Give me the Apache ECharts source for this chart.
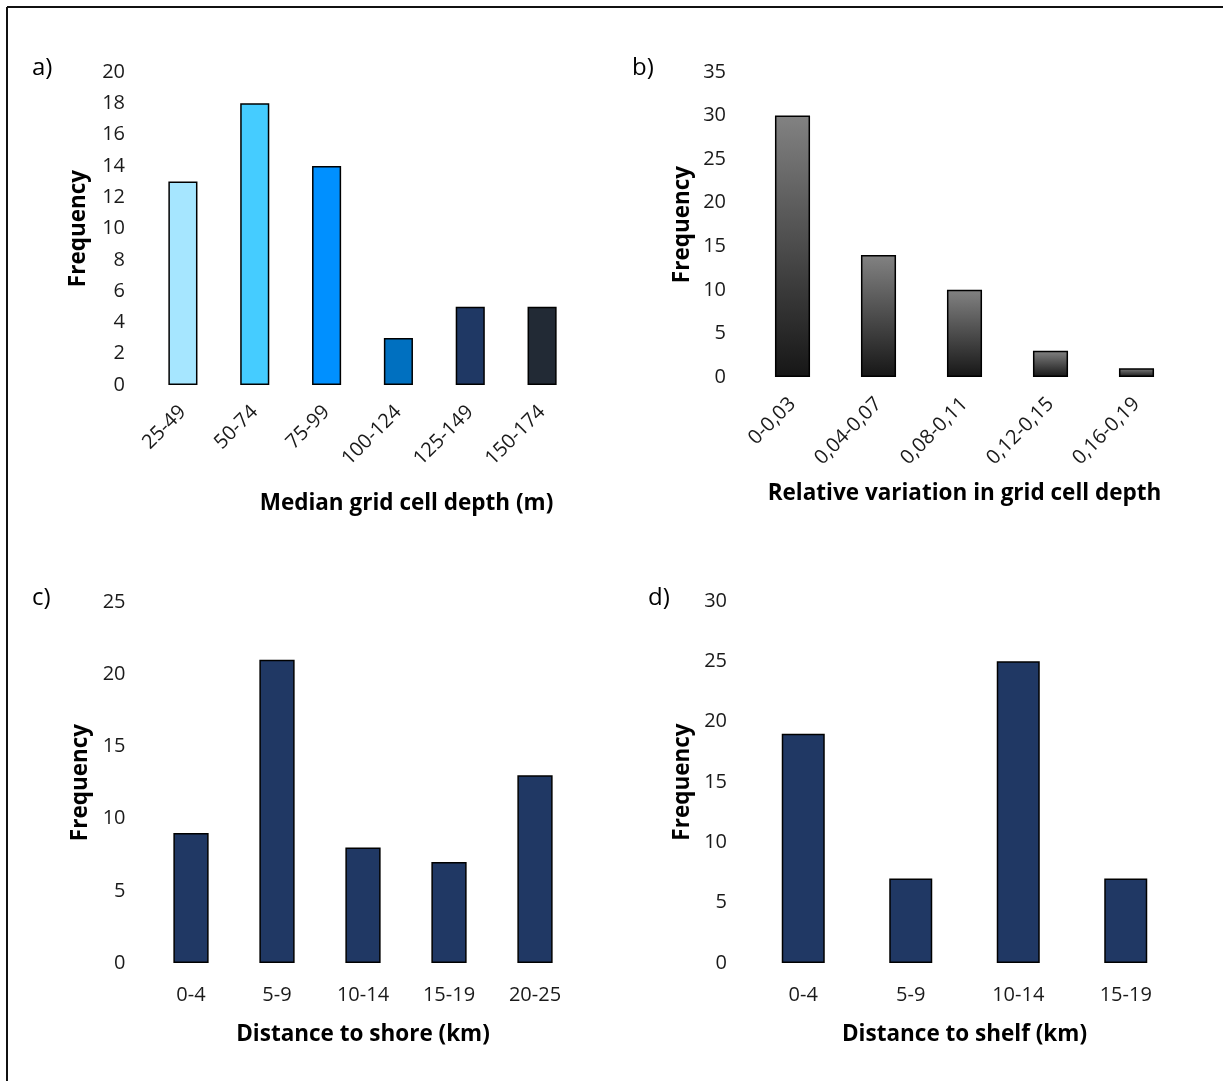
<!DOCTYPE html>
<html>
<head>
<meta charset="utf-8">
<script src="https://cdn.jsdelivr.net/npm/echarts@6/dist/echarts.min.js"></script>
<style>
html,body{margin:0;padding:0;background:#fff;}
#chart{width:1223px;height:1081px;}
</style>
</head>
<body>
<div id="chart"></div>
<script>
// ---- data ----
const catsA = ['25-49', '50-74', '75-99', '100-124', '125-149', '150-174'];
const valsA = [13, 18, 14, 3, 5, 5];
const catsB = ['0-0,03', '0,04-0,07', '0,08-0,11', '0,12-0,15', '0,16-0,19'];
const valsB = [30, 14, 10, 3, 1];
const catsC = ['0-4', '5-9', '10-14', '15-19', '20-25'];
const valsC = [9, 21, 8, 7, 13];
const catsD = ['0-4', '5-9', '10-14', '15-19'];
const valsD = [19, 7, 25, 7];
const titlesX = ['Median grid cell depth (m)', 'Relative variation in grid cell depth', 'Distance to shore (km)', 'Distance to shelf (km)'];
const yTitle = 'Frequency';
const panelLabels = ['a)', 'b)', 'c)', 'd)'];

// ---- styles ----
const colorsA = ['#A6E6FF', '#45CCFF', '#0090FF', '#0070C0', '#1F3864', '#222A35'];
const navy = '#203864';
const FONT = 'Open Sans';
const txt = '#1a1a1a';

const chart = echarts.init(document.getElementById('chart'), null, {renderer: 'canvas'});

const grids = [
  {left: 147, top: 72, width: 431, height: 313},
  {left: 749.5, top: 72, width: 430, height: 305},
  {left: 148, top: 602, width: 430, height: 361},
  {left: 749.5, top: 601, width: 430, height: 362}
];
const yMax = [20, 35, 25, 30];
const yInt = [2, 5, 5, 5];
const cats = [catsA, catsB, catsC, catsD];
const rot = [45, 45, 0, 0];
const nameGapX = [107, 105, 60, 60];
const nameGapY = [56.5, 55, 56, 55];
const yLabMargin = [22, 23.5, 22.5, 22.5];
const namePad = [[0, 0, 0, 88], 0, 0, 0];
const barW = ['40.5%', '40.8%', '41%', '40%'];

const xAxes = cats.map((c, i) => ({
  type: 'category', gridIndex: i, data: c,
  axisLine: {show: false}, axisTick: {show: false},
  axisLabel: {color: txt, fontFamily: FONT, fontSize: 20, rotate: rot[i], margin: rot[i] ? 24 : 22, interval: 0},
  name: titlesX[i], nameLocation: 'middle', nameGap: nameGapX[i],
  nameTextStyle: {color: '#000', fontFamily: FONT, fontWeight: 'bold', fontSize: 22.5, padding: namePad[i]}
}));
const yAxes = yMax.map((m, i) => ({
  type: 'value', gridIndex: i, min: 0, max: m, interval: yInt[i],
  axisLine: {show: false}, axisTick: {show: false}, splitLine: {show: false},
  axisLabel: {color: txt, fontFamily: FONT, fontSize: 20, margin: yLabMargin[i]},
  name: yTitle, nameLocation: 'middle', nameGap: nameGapY[i],
  nameTextStyle: {color: '#000', fontFamily: FONT, fontWeight: 'bold', fontSize: 22.5}
}));

const grayGrad = new echarts.graphic.LinearGradient(0, 0, 0, 1, [
  {offset: 0, color: '#828282'},
  {offset: 1, color: '#161616'}
]);

const border = {borderColor: '#000', borderWidth: 1.5};
const series = [
  {type: 'bar', xAxisIndex: 0, yAxisIndex: 0, barWidth: barW[0],
   data: valsA.map((v, k) => ({value: v, itemStyle: {color: colorsA[k]}})),
   itemStyle: border},
  {type: 'bar', xAxisIndex: 1, yAxisIndex: 1, barWidth: barW[1], data: valsB,
   itemStyle: Object.assign({color: grayGrad}, border)},
  {type: 'bar', xAxisIndex: 2, yAxisIndex: 2, barWidth: barW[2], data: valsC,
   itemStyle: Object.assign({color: navy}, border)},
  {type: 'bar', xAxisIndex: 3, yAxisIndex: 3, barWidth: barW[3], data: valsD,
   itemStyle: Object.assign({color: navy}, border)}
];

const labelPos = [[32, 73], [632, 73], [32, 603], [648, 603]];
const graphic = [
  {type: 'line', shape: {x1: 7, y1: 7, x2: 1223, y2: 7}, style: {stroke: '#111', lineWidth: 2}},
  {type: 'line', shape: {x1: 7, y1: 7, x2: 7, y2: 1081}, style: {stroke: '#111', lineWidth: 2}}
].concat(panelLabels.map((t, i) => ({
  type: 'text', left: labelPos[i][0], top: labelPos[i][1] - 17,
  style: {text: t, fill: '#000', font: '24px "Open Sans"'}
})));

chart.setOption({
  animation: false,
  backgroundColor: '#fff',
  grid: grids,
  xAxis: xAxes,
  yAxis: yAxes,
  series: series,
  graphic: graphic
});
</script>
</body>
</html>
